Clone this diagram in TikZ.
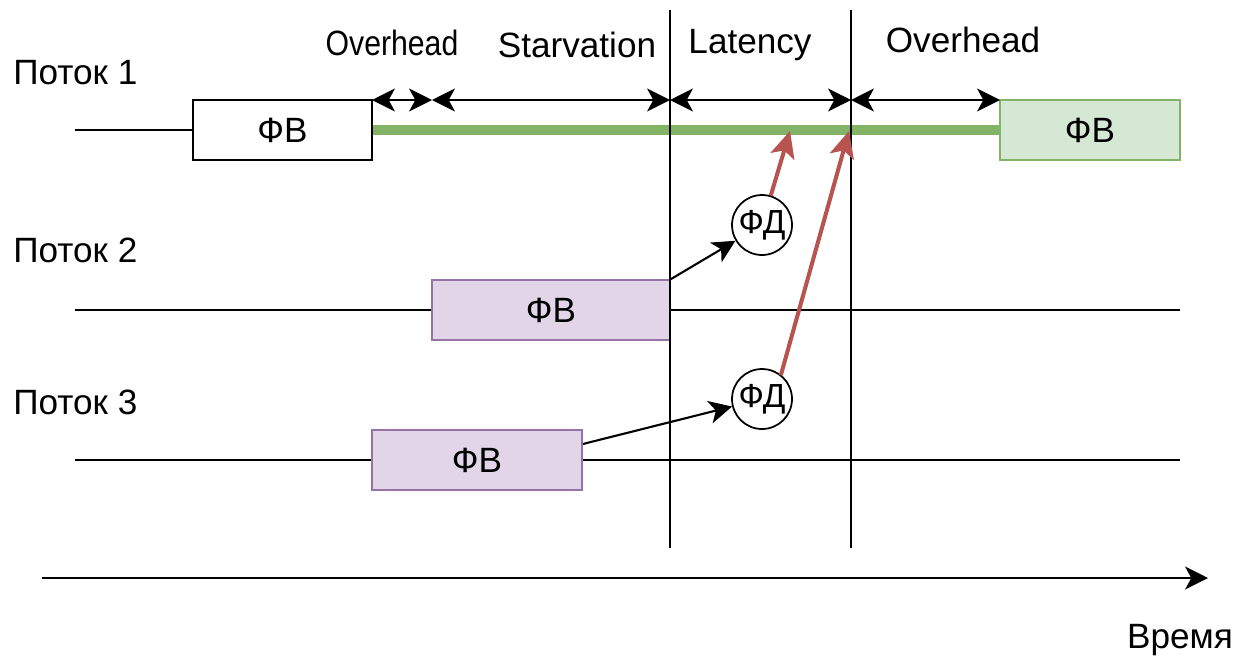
\documentclass[tikz,border=0pt]{standalone}
\usepackage{fontspec}
\setmainfont{Liberation Sans}
\usepackage{xcolor}
\usepackage{graphicx}
\usetikzlibrary{arrows.meta}
\usetikzlibrary{calc}
\usetikzlibrary{positioning}

\definecolor{fvgreen}{HTML}{D5E8D4}
\definecolor{linegreen}{HTML}{82B366}
\definecolor{fvpurple}{HTML}{E1D5E7}
\definecolor{edgepurple}{HTML}{9673A6}
\definecolor{fdred}{HTML}{B85450}

\begin{document}
\begin{tikzpicture}[x=0.02cm,y=-0.02cm,line width=1.6pt,font=\fontsize{20}{24}\selectfont,
  >={Stealth[length=13pt,width=13pt,inset=3.5pt]}]
 	\tikzstyle{fv}=[draw=black, fill=white, minimum height=1.2cm, inner sep=0pt, line width=1pt]
 	\tikzstyle{fd}=[circle, draw=black, fill=white, minimum size=1.2cm, inner sep=0pt, line width=1pt, font=\fontsize{19}{22}\selectfont]
 	\tikzstyle{lbl}=[anchor=west, inner sep=0pt]
 	\tikzstyle{red arrow}=[->, draw=fdred, line width=2.3pt, >={Stealth[length=15pt,width=14pt,inset=3.5pt]}]
 	\useasboundingbox (0,0) rectangle (1236,657);

			% thread labels
			\node[lbl] (t1) at (12,73) {Поток 1};
			\node[lbl] (t2) at (12,250) {Поток 2};
			\node[lbl] (t3) at (12,402) {Поток 3};

			% timelines
			\coordinate (s1) at (75,130);
			\coordinate (s2) at (75,310);
			\coordinate (e2) at (1180,310);
			\coordinate (s3) at (75,460);
			\coordinate (e3) at (1180,460);
			\draw (s2) -- (e2);
			\draw (s3) -- (e3);

			% phases
			\node[fv, minimum width=3.58cm] (fv1) at (282.5,130) {ФВ};
			\node[fv, fill=fvgreen, draw=linegreen, minimum width=3.6cm] (fv4) at (1090,130) {ФВ};
			\node[fv, fill=fvpurple, draw=edgepurple, minimum width=4.76cm] (fv2) at (551,310) {ФВ};
			\node[fv, fill=fvpurple, draw=edgepurple, minimum width=4.2cm] (fv3) at (477,460) {ФВ};
			\draw (s1) -- (fv1.west);
			\draw[draw=linegreen, line width=5.5pt] (fv1.east) -- (fv4.west);

			% borders
			\coordinate (v1a) at (670,10);
			\coordinate (v1b) at (670,548);
			\coordinate (v2a) at (851,10);
			\coordinate (v2b) at (851,548);
			\draw (v1a) -- (v1b);
			\draw (v2a) -- (v2b);

			% intervals
			\coordinate (d1) at (372,100);
			\coordinate (d2) at (432,100);
			\coordinate (d3) at (670,100);
			\coordinate (d4) at (851,100);
			\coordinate (d5) at (1000,100);
			\draw[<->] (d1) -- (d2);
			\draw[<->] (d2) -- (d3);
			\draw[<->] (d3) -- (d4);
			\draw[<->] (d4) -- (d5);
			\node (o1) at (392,43) {\scalebox{0.86}[1]{Overhead}};
			\node (st) at (577,45) {Starvation};
			\node (la) at (750,45) {Latency};
			\node (o2) at (963,40) {Overhead};

			% data phases
			\node[fd] (fd1) at (762,225) {ФД};
			\node[fd] (fd2) at (762,399) {ФД};
			\draw[->, line width=1.2pt] (fv2.north east) -- (fd1);
			\draw[->, line width=1.2pt] (fv3.east |- 0,444) -- (fd2);
			\coordinate (g1) at (790,131);
			\coordinate (g2) at (849,131);
			\draw[red arrow] (fd1) -- (g1);
			\draw[red arrow] (fd2.north east) ++(-3,-2) -- (g2);

			% time axis
			\coordinate (ax1) at (42,578);
			\coordinate (ax2) at (1208,578);
			\draw[->] (ax1) -- (ax2);
			\node (tm) at (1180,640) {Время};
 	\end{tikzpicture}
\end{document}
